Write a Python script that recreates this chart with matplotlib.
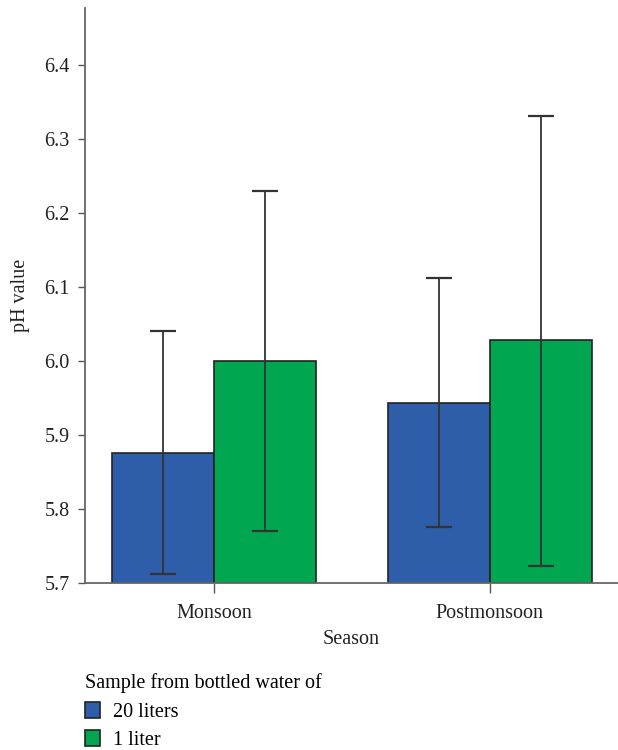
import matplotlib.pyplot as plt
import numpy as np

seasons = ["Monsoon", "Postmonsoon"]
series = ["20 liters", "1 liter"]
colors = ["#2E5EAA", "#00A650"]

# mean pH and the ends of each error bar
ph_mean = {"20 liters": [5.876, 5.943], "1 liter": [6.000, 6.028]}
ph_low = {"20 liters": [5.712, 5.776], "1 liter": [5.770, 5.723]}
ph_high = {"20 liters": [6.040, 6.112], "1 liter": [6.230, 6.331]}

plt.rcParams["font.family"] = ["Liberation Serif", "DejaVu Serif"]
plt.rcParams["font.size"] = 14.5

fig = plt.figure(figsize=(6.18, 7.5), dpi=100)
ax = fig.add_axes([85 / 618, 1 - 583 / 750, 1 - 85 / 618, (583 - 8) / 750])

x = np.arange(len(seasons))
width = 0.37
for i, name in enumerate(series):
    pos = x + (i - 0.5) * width
    mean = np.array(ph_mean[name])
    err = [mean - np.array(ph_low[name]), np.array(ph_high[name]) - mean]
    ax.bar(pos, mean - 5.7, width, bottom=5.7, color=colors[i],
           edgecolor="#222222", linewidth=1.2, label=name, zorder=2)
    ax.errorbar(pos, mean, yerr=err, fmt="none", ecolor="#333333",
                elinewidth=1.3, capsize=9.4, capthick=1.6, zorder=3)

ax.set_ylim(5.7, 6.477)
ax.set_xlim(-0.467, 1.464)
ax.set_yticks(np.arange(5.7, 6.45, 0.1))
ax.set_yticklabels([f"{v:.1f}" for v in np.arange(5.7, 6.45, 0.1)])
ax.set_xticks(x)
ax.set_xticklabels(seasons)

for s in ["top", "right"]:
    ax.spines[s].set_visible(False)
for s in ["left", "bottom"]:
    ax.spines[s].set_color("#666666")
    ax.spines[s].set_linewidth(1.3)
ax.tick_params(axis="y", length=5, width=1, color="#555555", pad=6,
               labelcolor="#222222")
ax.tick_params(axis="x", length=7, width=1, color="#555555", pad=8,
               labelcolor="#222222")

ax.set_xlabel("Season", color="#222222", labelpad=5)
ax.set_ylabel("pH value", color="#222222", labelpad=10)

fig.legend(loc="upper left", bbox_to_anchor=(85 / 618, 1 - 673 / 750),
           title="Sample from bottled water of", title_fontsize=14.5,
           alignment="left", frameon=False, borderpad=0, borderaxespad=0,
           handlelength=0.75, handleheight=0.85, handletextpad=0.65,
           labelspacing=0.43)

fig.savefig("out.png", dpi=100)
